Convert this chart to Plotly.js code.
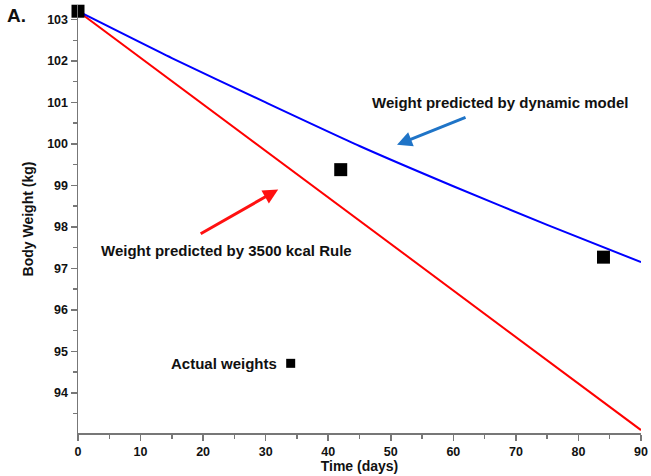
<!DOCTYPE html>
<html><head><meta charset="utf-8">
<script src="https://cdn.plot.ly/plotly-3.0.1.min.js"></script>
<style>html,body{margin:0;padding:0;background:#fff}</style>
</head><body>
<div id="chart" style="width:651px;height:476px"></div>
<script>
const modelDays = [0, 15, 30, 45, 60, 75, 90];
const dynamicModel = [103.2, 102.07, 101.0, 99.95, 98.98, 98.05, 97.15];
const ruleDays = [0, 90];
const rule3500 = [103.2, 93.1];
const actualDays = [0, 42, 84];
const actualWeights = [103.2, 99.38, 97.27];
const xTicks = [0, 10, 20, 30, 40, 50, 60, 70, 80, 90];
const yTicks = [94, 95, 96, 97, 98, 99, 100, 101, 102, 103];

const F = "Liberation Sans, Arial, sans-serif";
const traces = [
  {x: ruleDays, y: rule3500, mode: 'lines', line: {color: '#ff0000', width: 2}, cliponaxis: false},
  {x: modelDays, y: dynamicModel, mode: 'lines', line: {color: '#0000ff', width: 2, shape: 'spline', smoothing: 0.6}, cliponaxis: false},
  {x: actualDays, y: actualWeights, mode: 'markers', marker: {symbol: 'square', size: 13, color: '#000'}, cliponaxis: false}
];
const axisCommon = {
  showgrid: false, zeroline: false, showline: true, linecolor: '#777', linewidth: 1.5,
  ticks: 'outside', ticklen: 6, tickwidth: 1.5, tickcolor: '#777',
  tickfont: {family: F, size: 12.5, color: '#111'}
};
const bold = a => a.map(v => '<b>' + v + '</b>');
const layout = {
  width: 651, height: 476,
  margin: {l: 78, r: 10, t: 5, b: 43},
  showlegend: false,
  paper_bgcolor: '#fff', plot_bgcolor: '#fff',
  xaxis: Object.assign({}, axisCommon, {
    range: [0, 90], tickvals: xTicks, ticktext: bold(xTicks),
    minor: {dtick: 5, ticks: 'outside', ticklen: 4, tickcolor: '#777', tickwidth: 1.5},
    title: {text: '<b>Time (days)</b>', font: {family: F, size: 14, color: '#111'}, standoff: 2}
  }),
  yaxis: Object.assign({}, axisCommon, {
    range: [93.03, 103.35], tickvals: yTicks, ticktext: bold(yTicks),
    minor: {dtick: 0.5, ticks: 'outside', ticklen: 4, tickcolor: '#777', tickwidth: 1.5},
    title: {text: '<b>Body Weight (kg)</b>', font: {family: F, size: 14, color: '#111'}, standoff: 10}
  }),
  annotations: [
    {xref: 'paper', yref: 'paper', x: -0.13, y: 1.005, xanchor: 'left', yanchor: 'top', showarrow: false,
     text: '<b>A.</b>', font: {family: F, size: 19, color: '#111'}},
    {xref: 'x', yref: 'y', x: 46.6, y: 101.0, xanchor: 'left', showarrow: false,
     text: '<b>Weight predicted by dynamic model</b>', font: {family: F, size: 15, color: '#111'}},
    {xref: 'x', yref: 'y', x: 3.3, y: 97.44, xanchor: 'left', showarrow: false,
     text: '<b>Weight predicted by 3500 kcal Rule</b>', font: {family: F, size: 15, color: '#111'}},
    {xref: 'x', yref: 'y', x: 14.5, y: 94.7, xanchor: 'left', showarrow: false,
     text: '<b>Actual weights</b>', font: {family: F, size: 15, color: '#111'}},
    {xref: 'x', yref: 'y', x: 51, y: 99.98, ax: 70, ay: -28, axref: 'pixel', ayref: 'pixel',
     showarrow: true, arrowhead: 2, arrowsize: 1, arrowwidth: 3, arrowcolor: '#1f74c7', text: ''},
    {xref: 'x', yref: 'y', x: 32, y: 98.9, ax: -79, ay: 45, axref: 'pixel', ayref: 'pixel',
     showarrow: true, arrowhead: 2, arrowsize: 1, arrowwidth: 3, arrowcolor: '#ff1111', text: ''}
  ],
  shapes: [
    {type: 'rect', xref: 'x', yref: 'y', xsizemode: 'pixel', ysizemode: 'pixel',
     xanchor: 34, yanchor: 94.71, x0: -4.5, x1: 4.5, y0: -4.5, y1: 4.5,
     fillcolor: '#000', line: {width: 0}}
  ]
};
Plotly.newPlot('chart', traces, layout, {displayModeBar: false, staticPlot: true});
</script>
</body></html>
